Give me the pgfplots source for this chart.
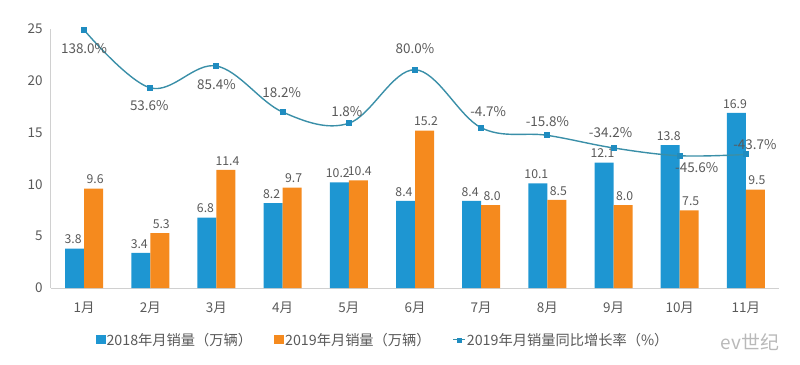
\documentclass[border=0pt]{standalone}
\usepackage{pgfplots}
\pgfplotsset{compat=1.18}
\usetikzlibrary{calc}
\usepackage{fontspec}
\setmainfont{Noto Sans CJK SC}
\definecolor{cA}{HTML}{1E96D2}
\definecolor{cB}{HTML}{F58A1E}
\definecolor{cline}{HTML}{3A8FA8}
\definecolor{cmark}{HTML}{1F8CC0}
\definecolor{txt}{HTML}{595959}
\definecolor{axl}{HTML}{D0D0D0}
\pgfplotstableread{
x v18 v19
1 3.8 9.6
2 3.4 5.3
3 6.8 11.4
4 8.2 9.7
5 10.2 10.4
6 8.4 15.2
7 8.4 8.0
8 10.1 8.5
9 12.1 8.0
10 13.8 7.5
11 16.9 9.5
}\sales
\pgfplotstableread{
x r dx dy
1 138.0 0 -19
2 53.6 -1 -18
3 85.4 0 -19
4 18.2 -1 19
5 1.8 -2 12
6 80.0 0 21
7 -4.7 7 16
8 -15.8 0 14
9 -34.2 -3 15
10 -45.6 17 -12
11 -43.7 9 10
}\rate
\begin{document}
\begin{tikzpicture}[font=\fontsize{13.5}{16}\selectfont]
\begin{axis}[name=ax, scale only axis, width=728bp, height=259bp,
  xmin=0.5, xmax=11.5, ymin=0, ymax=25,
  ytick={0,5,...,25}, xtick={1,...,11},
  xticklabels={1月,2月,3月,4月,5月,6月,7月,8月,9月,10月,11月},
  axis x line*=bottom, axis y line*=left,
  axis line style={-, axl, line width=1bp},
  tick style={draw=none},
  ticklabel style={text=txt},
  yticklabel style={xshift=-5bp},
  xticklabel style={yshift=-6bp},
  /pgf/number format/assume math mode=true,
  ybar=0pt, bar width=19bp,
  nodes near coords,
  nodes near coords style={text=txt, font=\fontsize{12.3}{14}\selectfont, /pgf/number format/fixed, /pgf/number format/precision=1, /pgf/number format/fixed zerofill, yshift=1bp},
  legend style={at={(0.456,-0.2)}, anchor=center, draw=none, fill=none, legend columns=3, text=txt,
    font=\fontsize{14.3}{16}\selectfont,
    /tikz/every odd column/.append style={column sep=-1bp},
    /tikz/every even column/.append style={column sep=20bp}},
  legend image code/.code={\fill[#1] (0bp,-4.5bp) rectangle (10bp,4.5bp);},
  clip=false,
]
\addplot[fill=cA, draw=none, nodes near coords style={xshift=-1.5bp}] table[x=x, y=v18] {\sales};
\addlegendentry{2018年月销量（万辆）}
\addplot[fill=cB, draw=none, nodes near coords style={xshift=1.5bp}] table[x=x, y=v19] {\sales};
\addlegendentry{2019年月销量（万辆）}
\addlegendimage{legend image code/.code={\draw[cline, line width=1.2bp] (0bp,0bp) -- (12bp,0bp); \fill[cmark] (4bp,-2bp) rectangle (8bp,2bp);}}
\addlegendentry{2019年月销量同比增长率（\%）}
\node[text=gray!55, font=\fontsize{19}{20}\selectfont] at (rel axis cs:0.96,-0.21) {ev世纪};
\end{axis}
\begin{axis}[scale only axis, width=728bp, height=259bp,
  xmin=0.5, xmax=11.5, ymin=-238.7, ymax=139.5, hide axis, clip=false]
\addplot[cline, line width=1.4bp, smooth, tension=0.6,
  mark=square*, mark size=2.3bp, mark options={fill=cmark, draw=cmark, solid},
  nodes near coords={\pgfmathprintnumber[fixed,fixed zerofill,precision=1,assume math mode=true]{\pgfplotspointmeta}\%},
  point meta=explicit,
  visualization depends on={\thisrow{dx} \as \ddx},
  visualization depends on={\thisrow{dy} \as \ddy},
  every node near coord/.append style={anchor=center, text=txt, xshift=\ddx bp, yshift=\ddy bp}]
  table[x=x, y=r, meta=r] {\rate};
\end{axis}
\path (ax.south west) ++(-51bp,-77bp) rectangle ($(ax.north east)+(21bp,29bp)$);
\end{tikzpicture}
\end{document}
